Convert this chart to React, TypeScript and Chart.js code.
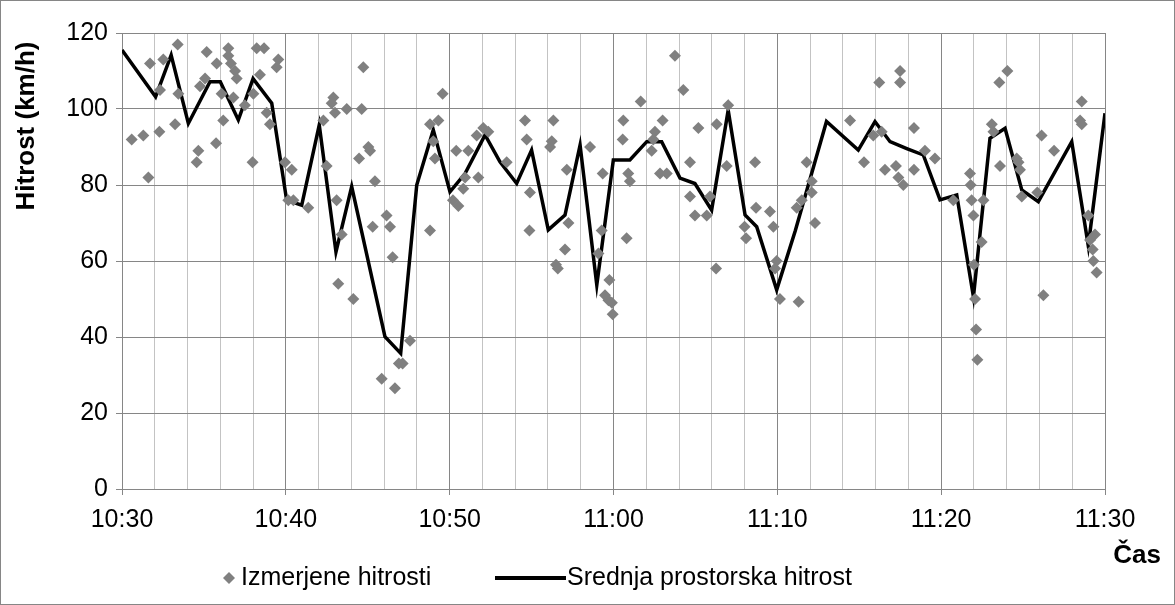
import React, { useEffect, useRef } from "react";
import { Chart, registerables } from "chart.js";

Chart.register(...registerables);

// minutes after 10:30
const scatterMinutes = [
  0.59, 1.3, 1.61, 1.71, 2.28, 2.32, 2.52, 3.24, 3.4, 3.44, 4.56, 4.66, 4.76, 5.07, 5.17, 5.74, 5.78, 6.08, 6.18, 6.49,
  6.49, 6.65, 6.9, 7.0, 6.8, 7.5, 7.97, 8.02, 8.22, 8.67, 8.42, 8.83, 9.03, 9.54, 9.44, 9.95, 10.15,
  10.36, 10.46, 11.37, 12.29, 12.49, 12.8, 12.9, 13.0, 13.1, 13.72, 14.73, 14.63, 14.47, 15.04, 15.14, 15.44, 13.41, 13.2,
  14.12, 15.3, 16.15, 16.36, 16.52, 15.85, 16.66, 16.9, 17.13, 17.58, 18.8, 18.8, 19.0, 19.1, 19.31, 19.57,
  20.4, 20.2, 20.53, 21.14, 21.65, 22.05, 22.36, 20.94, 20.83, 21.75, 23.48, 24.6, 24.7, 24.9, 24.87, 26.13, 26.23, 26.33,
  27.15, 27.25, 27.04, 26.49, 26.6, 28.57, 29.34, 29.28, 29.08, 29.75, 29.48, 29.69, 29.9, 29.95,
  30.6, 30.56, 30.9, 31.0, 30.8, 31.66, 32.33, 32.43, 32.53, 33.0, 32.84, 33.25, 33.75, 34.26, 34.67, 35.18, 34.67, 34.97,
  35.69, 35.89, 36.3, 36.91, 37.0, 36.26, 38.0, 38.09, 38.64, 38.7, 39.55, 39.76, 39.96, 39.86, 40.16, 41.3, 41.18,
  41.79, 42.1, 42.1, 41.49, 42.3, 44.44, 45.29, 46.22, 47.49, 47.49, 45.86, 46.37, 46.57, 47.24, 47.39, 47.69, 48.34, 48.34,
  49.01, 49.62, 50.74,
  51.76, 51.8, 51.86, 51.97, 52.58, 53.09, 53.19, 53.55, 54.04, 53.59, 54.61, 54.72, 54.81, 54.92, 55.87, 56.13, 56.89,
  58.58, 58.48, 58.58, 58.98, 52.47, 52.0, 52.07, 52.13, 52.21, 56.24, 59.39, 59.09, 59.25, 59.29, 59.49,
];
const scatterSpeeds = [
  92, 93, 82, 112, 94, 105, 113, 96, 117, 104, 86, 89, 106, 108, 115, 91, 112, 104, 97, 116,
  114, 112, 110, 108, 103, 101, 86, 104, 116, 116, 109, 99, 96, 113, 111, 86, 76,
  84, 76, 74, 97, 85, 101.5, 103, 99, 76, 100, 111, 100, 87, 90, 89, 81, 67, 54,
  50, 69, 72, 69, 61, 29, 26.5, 33, 33, 39, 68, 96, 91.5, 87, 97, 104,
  89, 76, 74.5, 89, 93, 95, 94, 82, 79, 82, 86, 97, 92, 78, 68, 90, 91.5, 97,
  84, 70, 63, 59, 58, 90, 83, 68, 62, 55, 51, 49.7, 49, 46,
  97, 92, 83, 81, 66, 102, 89, 92, 94, 97, 83, 83, 114, 105, 86, 95, 77, 72,
  72, 77, 96, 85, 101, 58, 69, 66, 86, 74, 73, 69, 60, 58, 50, 49.3, 74,
  86, 81, 78, 76, 70, 97, 86, 107, 110, 107, 93, 94, 84, 85, 82, 80, 95, 84,
  89, 87, 76,
  83, 80, 76, 72, 76, 96, 94, 107, 110, 85, 87, 86, 84, 77, 78, 93, 89,
  102, 97, 96, 72, 65, 59, 50, 42, 34, 51, 67, 65.5, 63, 60, 57,
];

const lineMinutes = [
  0, 2.05, 3.0, 4.05, 5.37, 6.0, 7.1, 8.0, 9.14, 10.05, 10.97, 12.04, 13.06, 14.02, 16.05, 17.01, 17.99, 19.0, 20.02, 20.94,
  22.16, 23.07, 24.09, 25.0, 26.02, 27.04, 27.96, 28.98, 29.99, 31.0, 32.03, 32.94, 34.06, 34.97, 35.99, 37.0, 38.03, 38.74,
  39.96, 41.1, 43.0, 44.94, 45.96, 46.88, 47.9, 48.91, 49.93, 50.95, 51.97, 52.98, 53.9, 54.92, 55.93, 57.97, 58.98, 60,
];
const lineSpeeds = [
  115.5, 103.2, 114.2, 96.2, 107.2, 107.2, 97.1, 108, 101.5, 76, 74.7, 95.8, 62.4, 79.6, 40.1, 35.7, 80, 94.5, 78.2, 83,
  93.2, 86.1, 80.4, 89.2, 68.2, 72.1, 90.5, 53.7, 86.6, 86.6, 91.4, 91.4, 81.8, 80.4, 73.4, 99.7, 72.1, 69,
  52.4, 68, 96.7, 89.2, 96.7, 91.4, 89.6, 87.9, 76.1, 77.4, 50.6, 92.3, 94.9, 78.7, 75.6, 91.4, 64, 98.9,
];

const xMin = 0;
const xMax = 60;
const xMinorStep = 2;
const xMajorStep = 10;
const yMin = 0;
const yMax = 120;
const yStep = 20;

const seriesNames = ["Izmerjene hitrosti", "Srednja prostorska hitrost"];
const yTitle = "Hitrost (km/h)";
const xTitle = "Čas";

const FONT = '"Liberation Sans", Arial, sans-serif';
const FS = 25;
const MAJOR = "#868686";
const MINOR = "#c3c3c3";
const GRAY = "#808080";

function fmtTime(v: number) {
  const total = 10 * 60 + 30 + v;
  const h = Math.floor(total / 60);
  const m = Math.round(total % 60);
  return `${h}:${m < 10 ? "0" + m : m}`;
}

const decorPlugin = {
  id: "decor",
  beforeDraw(chart: any) {
    const ctx = chart.ctx;
    ctx.save();
    ctx.fillStyle = "#fff";
    ctx.fillRect(0, 0, chart.width, chart.height);
    ctx.restore();
  },
  afterDraw(chart: any) {
    const ctx = chart.ctx;
    ctx.save();
    ctx.strokeStyle = MAJOR;
    ctx.lineWidth = 1;
    ctx.strokeRect(0.5, 0.5, chart.width - 1, chart.height - 1);

    // y title
    ctx.fillStyle = "#000";
    ctx.font = `bold ${FS + 1}px ${FONT}`;
    ctx.textAlign = "center";
    ctx.textBaseline = "middle";
    ctx.save();
    ctx.translate(27, 126);
    ctx.rotate(-Math.PI / 2);
    ctx.fillText(yTitle, 0, 0);
    ctx.restore();

    // x title
    ctx.textAlign = "right";
    ctx.fillText(xTitle, 1161, 556);

    // legend
    ctx.font = `${FS}px ${FONT}`;
    ctx.textAlign = "left";
    const ly = 578;
    ctx.fillStyle = GRAY;
    ctx.beginPath();
    ctx.moveTo(229 - 6, ly);
    ctx.lineTo(229, ly - 6);
    ctx.lineTo(229 + 6, ly);
    ctx.lineTo(229, ly + 6);
    ctx.closePath();
    ctx.fill();
    ctx.fillStyle = "#000";
    ctx.fillText(seriesNames[0], 241, ly);

    ctx.strokeStyle = "#000";
    ctx.lineWidth = 4;
    ctx.beginPath();
    ctx.moveTo(495, ly);
    ctx.lineTo(566, ly);
    ctx.stroke();
    ctx.fillText(seriesNames[1], 567, ly);
    ctx.restore();
  },
};

export default function App() {
  const ref = useRef<HTMLCanvasElement | null>(null);
  useEffect(() => {
    if (!ref.current) return;
    const scatterData = scatterMinutes.map((x, i) => ({ x, y: scatterSpeeds[i] }));
    const lineData = lineMinutes.map((x, i) => ({ x, y: lineSpeeds[i] }));
    const chart = new Chart(ref.current, {
      type: "scatter",
      data: {
        datasets: [
          {
            label: seriesNames[0],
            data: scatterData,
            pointStyle: "rectRot",
            pointRadius: 6,
            pointHoverRadius: 6,
            backgroundColor: GRAY,
            borderWidth: 0,
            showLine: false,
            order: 0,
          },
          {
            label: seriesNames[1],
            data: lineData,
            showLine: true,
            borderColor: "#000",
            backgroundColor: "#000",
            borderWidth: 3.5,
            pointRadius: 0,
            tension: 0,
            order: 1,
          } as any,
        ],
      },
      options: {
        responsive: false,
        animation: false,
        layout: { padding: { left: 42, right: 70, top: 33, bottom: 76 } },
        plugins: { legend: { display: false }, tooltip: { enabled: false } },
        scales: {
          x: {
            type: "linear",
            min: xMin,
            max: xMax,
            afterFit: (s: any) => {
              s.height = 40;
            },
            ticks: {
              stepSize: xMinorStep,
              autoSkip: false,
              maxRotation: 0,
              minRotation: 0,
              padding: 10,
              color: "#000",
              font: { family: FONT, size: FS },
              callback: (v: any) => (Number(v) % xMajorStep === 0 ? fmtTime(Number(v)) : ""),
            },
            grid: {
              color: (c: any) => (c.tick && Math.round(c.tick.value) % xMajorStep === 0 ? MAJOR : MINOR),
              tickColor: (c: any) =>
                c.tick && Math.round(c.tick.value) % xMajorStep === 0 ? MAJOR : "rgba(0,0,0,0)",
              tickLength: 6,
              lineWidth: 1,
            },
            border: { color: MAJOR, width: 1 },
          },
          y: {
            type: "linear",
            min: yMin,
            max: yMax,
            afterFit: (s: any) => {
              s.width = 80;
            },
            ticks: {
              stepSize: yStep,
              padding: 8,
              color: "#000",
              font: { family: FONT, size: FS },
            },
            grid: { color: MAJOR, tickColor: MAJOR, tickLength: 6, lineWidth: 1 },
            border: { color: MAJOR, width: 1 },
          },
        },
      },
      plugins: [decorPlugin],
    });
    return () => chart.destroy();
  }, []);

  return (
    <div style={{ position: "fixed", left: 0, top: 0, width: 1175, height: 605, background: "#fff" }}>
      <canvas ref={ref} width={1175} height={605} style={{ width: 1175, height: 605, display: "block" }} />
    </div>
  );
}
